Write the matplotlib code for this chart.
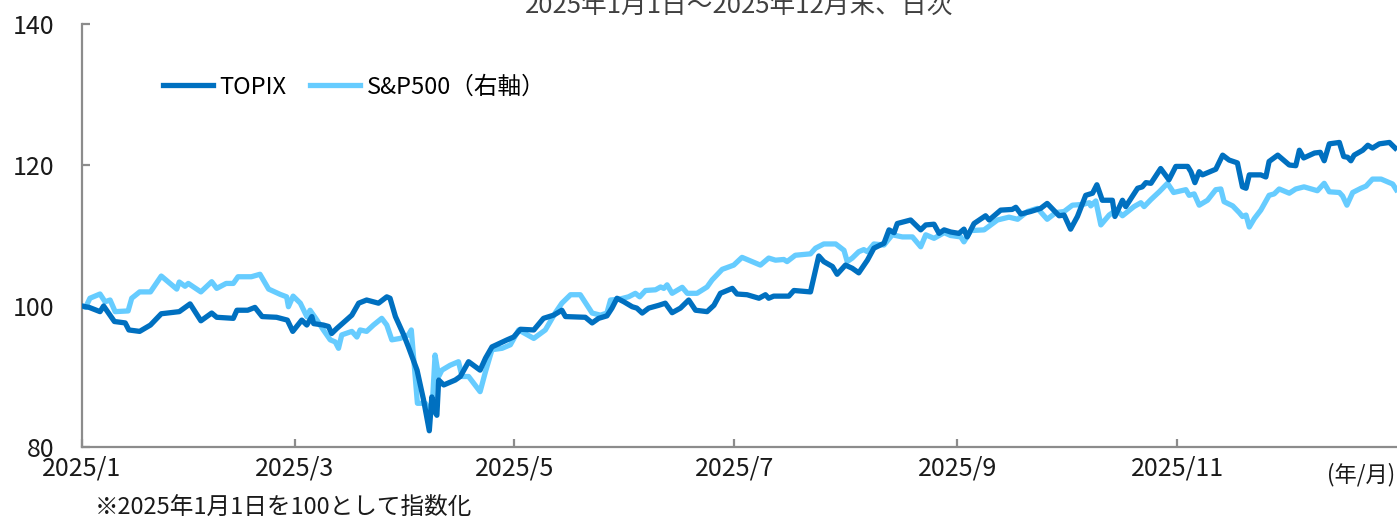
import matplotlib
matplotlib.use("Agg")
import matplotlib.pyplot as plt
import matplotlib.dates as mdates
import pandas as pd

plt.rcParams["font.family"] = ["Noto Sans CJK JP", "DejaVu Sans"]

START = pd.Timestamp("2025-01-01")

# days since 2025-01-01 and index values (2025-01-01 = 100)
topix_day = [0, 2, 5, 6, 9, 12, 13, 16, 19, 22, 27, 30, 33, 36, 37.4, 42, 43, 46, 48, 50,
             54, 57, 58.5, 61, 62.4, 63.8, 64.3, 67, 68.4, 69.3, 70.7, 74.9, 76.8, 79, 82.3,
             84.6, 85.5, 87, 89.3, 90.6, 93, 94.8, 96.4, 97.1, 97.8, 98.5, 99, 100.4, 103.6,
             105, 107.3, 110.5, 112, 113.8, 118, 119.8, 121.7, 125.4, 128.1, 130.9, 133.2,
             134.2, 139.7, 141.6, 143.4, 145.7, 147.1, 148.5, 150.4, 152.7, 154, 155.5, 157.3,
             160.1, 161.9, 163.8, 166.1, 168.4, 170.3, 173.5, 175.4, 177.2, 180.5, 181.8,
             184.6, 187.9, 189.7, 190.6, 192, 196.2, 197.6, 202.2, 204.5, 205.9, 208.3, 209.6,
             211.9, 213.8, 215.6, 218, 219.8, 222.6, 224, 225.4, 226.3, 230, 232.8, 234.2,
             236.5, 237.9, 239.3, 241.1, 243.4, 244.8, 245.7, 247.6, 250.8, 251.8, 255, 258.2,
             259.2, 260.6, 263.3, 266.1, 267.9, 271.2, 272.6, 274.4, 276.3, 278.6, 280.5,
             281.7, 283.2, 286, 286.7, 288.8, 289.7, 293, 294.3, 295.3, 296.7, 299.4, 301.7,
             303.6, 306.9, 307.8, 308.9, 310.1, 311, 314.7, 316.6, 318.4, 320.7, 322.1, 323.1,
             324, 327.2, 328.6, 329.5, 331.9, 335.1, 336.9, 337.9, 339.1, 342.1, 343.7, 344.8,
             346.2, 349, 350.2, 351.3, 352.2, 353.1, 355.5, 356.9, 358.2, 360.1, 362.9, 364.5]
topix_val = [100, 99.8, 99.2, 100.0, 97.8, 97.6, 96.6, 96.4, 97.3, 98.9, 99.2, 100.3, 97.9,
             99.0, 98.4, 98.25, 99.4, 99.4, 99.8, 98.5, 98.4, 98.0, 96.4, 98.0, 97.3, 98.5,
             97.5, 97.3, 97.1, 96.1, 96.8, 98.7, 100.4, 100.85, 100.4, 101.3, 101.1, 98.5,
             95.9, 94.2, 90.9, 86.7, 82.3, 87.1, 85.2, 84.5, 89.5, 88.8, 89.5, 90.0, 92.1,
             90.9, 92.6, 94.2, 95.2, 95.6, 96.7, 96.6, 98.25, 98.7, 99.4, 98.5, 98.4, 97.6,
             98.25, 98.6, 99.7, 101.1, 100.6, 99.9, 99.7, 99.0, 99.7, 100.1, 100.4, 99.05,
             99.7, 100.85, 99.4, 99.2, 100.1, 101.8, 102.5, 101.7, 101.6, 101.1, 101.6, 101.1,
             101.4, 101.4, 102.2, 102.0, 107.1, 106.3, 105.6, 104.5, 105.8, 105.35, 104.7,
             106.5, 108.2, 108.9, 110.8, 110.4, 111.7, 112.2, 110.8, 111.5, 111.6, 110.3,
             110.8, 110.5, 110.3, 110.9, 109.8, 111.7, 112.8, 112.2, 113.6, 113.7, 114.0,
             113.05, 113.4, 113.85, 114.55, 112.8, 112.9, 110.9, 112.7, 115.7, 116.0, 117.2,
             115.0, 115.0, 112.7, 115.0, 114.1, 116.7, 116.9, 117.5, 117.4, 119.5, 117.9,
             119.8, 119.8, 119.05, 117.5, 119.05, 118.6, 119.4, 121.4, 120.7, 120.3, 116.9,
             116.7, 118.6, 118.6, 118.3, 120.5, 121.4, 120.0, 119.9, 122.1, 121.0, 121.7,
             121.8, 120.6, 123.0, 123.2, 121.2, 121.1, 120.6, 121.4, 122.1, 122.8, 122.4,
             123.0, 123.2, 122.4]

spx_day = [0, 1, 2.2, 5, 6.4, 7.8, 9.2, 12.8, 13.8, 16, 19, 22, 26.3, 27, 28.6, 29.5, 33, 36,
           37.4, 40, 42, 43.3, 47, 49.4, 51.8, 55, 56.8, 57.3, 58.6, 60.6, 62.4, 63.3, 65.2,
           67, 68.9, 70.3, 71.2, 72.1, 74.9, 76.3, 77.2, 79, 80.9, 83.2, 84.6, 86, 88.3, 90.6,
           91.4, 93.1, 95.3, 97.1, 98, 99, 99.9, 102.2, 104.5, 105.5, 107.3, 110.5, 112, 113.8,
           116.6, 118.9, 121.2, 125.4, 128.6, 131.4, 133.2, 135.6, 138.3, 140.2, 141.6, 143.9,
           145.7, 146.7, 149, 151.7, 153.6, 154.8, 156.4, 159.2, 160.6, 161.5, 162.4, 163.8,
           166.6, 168, 170.7, 173.5, 174.9, 177.7, 180.9, 183.2, 188.3, 190.6, 192.5, 194.8,
           195.7, 198, 202.2, 203.6, 205.9, 209.2, 211.5, 212.4, 213.8, 215.6, 217, 218, 219.8,
           222.6, 224.9, 227.7, 230.5, 232.8, 234.2, 236.5, 239.3, 241.1, 243.9, 244.8, 246.7,
           250.4, 254.1, 257.3, 259.7, 262.4, 265.2, 267.9, 270.3, 272.6, 274.9, 277.7, 279.6,
           280, 281.4, 282.8, 285.1, 286.5, 287.4, 288.8, 292, 293.9, 294.8, 296.7, 299, 301.3,
           303, 306.4, 307.3, 308.7, 310.1, 312.4, 314.7, 316.1, 317, 319.4, 321.2, 322.1,
           323.1, 324, 325.4, 327.2, 329.5, 330.9, 332.3, 335.1, 336.9, 339.2, 342.9, 344.8,
           346.2, 349, 349.9, 351.1, 352.7, 355, 356.4, 358.2, 360.6, 363.8, 364.8]
spx_val = [100, 99.8, 101.1, 101.7, 100.6, 100.85, 99.2, 99.3, 101.1, 102.0, 102.0, 104.25,
           102.4, 103.4, 102.8, 103.2, 102.0, 103.45, 102.5, 103.2, 103.2, 104.15, 104.15,
           104.5, 102.4, 101.65, 101.3, 99.9, 101.4, 100.4, 98.5, 99.4, 98.0, 96.6, 95.2,
           94.9, 94.0, 95.9, 96.4, 95.6, 96.6, 96.4, 97.3, 98.25, 97.3, 95.2, 95.4, 95.9,
           96.6, 86.2, 86.2, 84.8, 93.05, 90.0, 90.9, 91.6, 92.1, 90.0, 90.0, 87.85, 90.7,
           93.8, 94.0, 94.5, 96.6, 95.4, 96.6, 99.05, 100.4, 101.6, 101.6, 100.1, 99.0, 98.7,
           99.0, 100.85, 100.95, 101.3, 101.8, 101.3, 102.2, 102.3, 102.7, 102.5, 103.0,
           101.8, 102.65, 101.8, 101.8, 102.7, 103.7, 105.2, 105.8, 106.9, 105.8, 106.8,
           106.5, 106.6, 106.3, 107.2, 107.4, 108.2, 108.8, 108.8, 107.9, 106.3, 106.8,
           107.7, 108.0, 107.7, 108.8, 108.65, 110.1, 109.8, 109.8, 108.4, 110.1, 109.6,
           110.4, 110.0, 109.8, 109.1, 110.7, 110.8, 112.2, 112.6, 112.3, 113.4, 113.85,
           112.3, 113.25, 113.4, 114.3, 114.4, 114.65, 114.2, 114.9, 111.5, 112.9, 113.4,
           113.5, 112.8, 114.1, 114.65, 114.1, 115.1, 116.2, 117.4, 116.1, 116.5, 115.7,
           115.9, 114.3, 115.0, 116.5, 116.6, 114.8, 114.2, 113.25, 112.7, 112.9, 111.2,
           112.4, 113.6, 115.7, 115.9, 116.6, 116.0, 116.6, 116.9, 116.35, 117.4, 116.2,
           116.1, 115.6, 114.3, 116.1, 116.7, 117.0, 118.0, 118.0, 117.3, 116.5]

SERIES_NAMES = ["TOPIX", "S&P500（右軸）"]
SERIES_COLORS = ["#0070C0", "#66CCFF"]
X_TICKS = ["2025-01-01", "2025-03-01", "2025-05-01", "2025-07-01", "2025-09-01", "2025-11-01"]
Y_TICKS = [80, 100, 120, 140]

TITLE = "2025年1月1日～2025年12月末、日次"
NOTE = "※2025年1月1日を100として指数化"
UNIT = "(年/月)"


def to_dates(days):
    return START + pd.to_timedelta(days, unit="D")


W, H = 1397, 517
fig = plt.figure(figsize=(W / 100, H / 100), dpi=100)
ax = fig.add_axes([82 / W, 1 - 447 / H, (W - 82) / W, (447 - 24) / H])

ax.plot(to_dates(spx_day), spx_val, color=SERIES_COLORS[1], lw=3.8,
        label=SERIES_NAMES[1], solid_joinstyle="round", zorder=2)
ax.plot(to_dates(topix_day), topix_val, color=SERIES_COLORS[0], lw=3.8,
        label=SERIES_NAMES[0], solid_joinstyle="round", zorder=3)

ax.set_xlim(START, START + pd.Timedelta(days=365))
ax.set_ylim(80, 140)
ax.set_yticks(Y_TICKS)
ax.set_xticks(pd.to_datetime(X_TICKS))
ax.xaxis.set_major_formatter(mdates.DateFormatter("%Y/%-m"))

for side in ("top", "right"):
    ax.spines[side].set_visible(False)
for side in ("left", "bottom"):
    ax.spines[side].set_color("#8c8c8c")
    ax.spines[side].set_linewidth(1.6)
ax.tick_params(axis="both", direction="in", length=6, width=1.6, color="#8c8c8c",
               labelsize=18, labelcolor="#1a1a1a")
ax.tick_params(axis="y", pad=20)
ax.tick_params(axis="x", pad=6)

handles, labels = ax.get_legend_handles_labels()
order = [1, 0]
ax.legend([handles[i] for i in order], [labels[i] for i in order],
          loc="center left", bbox_to_anchor=(163 / W, 1 - 87 / H),
          bbox_transform=fig.transFigure, ncol=2, frameon=False, fontsize=17,
          handlelength=2.1, handletextpad=0.3, columnspacing=1.0,
          borderpad=0, borderaxespad=0)

fig.text((82 + W) / 2 / W, 1 - 6 / H, TITLE, ha="center", va="center",
         fontsize=18.5, color="#404040")
fig.text(95 / W, 9 / H, NOTE, ha="left", va="center", fontsize=17, color="#1a1a1a")
fig.text(1395 / W, 1 - 475 / H, UNIT, ha="right", va="center", fontsize=16, color="#1a1a1a")

fig.savefig("out.png", dpi=100)
